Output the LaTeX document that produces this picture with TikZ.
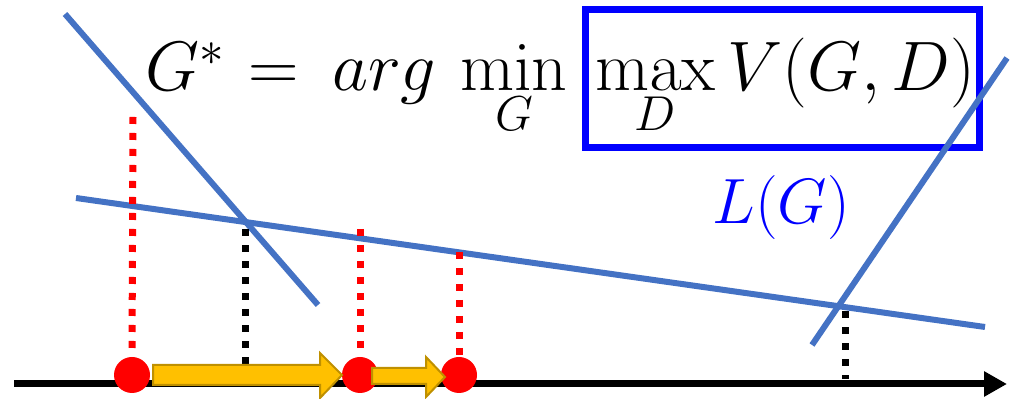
\RequirePackage{fix-cm}
\documentclass[tikz,border=0pt]{standalone}
\usepackage{tikz}
\usetikzlibrary{positioning, arrows.meta, calc}
\definecolor{lossblue}{HTML}{4472C4}
\definecolor{boxblue}{HTML}{0000FF}
\definecolor{ptred}{HTML}{FF0000}
\definecolor{stepgold}{HTML}{FFC000}
\definecolor{stepedge}{HTML}{BF9000}

\begin{document}
\begin{tikzpicture}[x=0.5pt, y=-0.5pt,
    lossline/.style={draw=lossblue, line width=3pt},
    drop/.style={line width=3.5pt, dash pattern=on 3.5pt off 4.5pt},
    pt/.style={circle, fill=ptred, minimum size=18pt, inner sep=0pt},
    stepbox/.style={fill=stepgold, draw=stepedge, line width=1pt, line join=miter},
    eq/.style={inner sep=0pt, anchor=base west, font=\fontsize{35}{42}\selectfont}]
  \useasboundingbox (0,0) rectangle (1017,399);
  % objective
  \node[eq] (lhs) at (145,91) {$G^*\hspace{2pt}=\hspace{7pt}arg$};
  \node[eq] (minop) at (460,91) {$\displaystyle\min_{\rule{0pt}{18pt}G}$};
  \node[eq] (maxop) at (595,91) {$\displaystyle\max_{\rule{0pt}{18pt}D} V(G,D)$};
  \node[draw=boxblue, line width=3.5pt, minimum width=197pt, minimum height=69pt, inner sep=0pt] (box) at (782,78.5) {};
  \node[inner sep=0pt, anchor=base west, text=boxblue, font=\fontsize{32}{38}\selectfont] (lg) at (712,224) {$L(G)$};
  % lines of L(G)
  \coordinate (a1) at (65,14);   \coordinate (a2) at (318,305);
  \coordinate (b1) at (76,198);  \coordinate (b2) at (985,327);
  \coordinate (c1) at (812,345); \coordinate (c2) at (1007,58);
  \coordinate (ab) at (intersection of a1--a2 and b1--b2);
  \coordinate (bc) at (intersection of b1--b2 and c1--c2);
  % axis
  \coordinate (o) at (14,384);
  \coordinate (xend) at (1007,384);
  \draw[line width=3.5pt, -{Triangle[length=11.5pt, width=12pt]}] (o) -- (xend);
  \draw[lossline] (a1) -- (a2);
  \draw[lossline] (b1) -- (b2);
  \draw[lossline] (c1) -- (c2);
  \draw[drop, black] ($(ab)+(0,7)$) -- ($(ab |- o)+(0,-20)$);
  \draw[drop, black] ($(bc)+(7,5)$) -- ($(bc |- o)+(7,-5)$);
  % steps
  \node[pt] (p0) at (132,375) {};
  \node[pt] (p1) at (360,375) {};
  \node[pt] (p2) at (459,375) {};
  \draw[drop, ptred] (133,117) -- (p0.north);
  \draw[drop, ptred] (360,229) -- (p1.north);
  \draw[drop, ptred] (459,252) -- (p2.north);
  \draw[stepbox] (153,365) -- (320,365) -- (320,353) -- (342,375) -- (320,398) -- (320,385) -- (153,385) -- cycle;
  \draw[stepbox] (372,368) -- (426,368) -- (426,357) -- (445,377) -- (426,397) -- (426,384) -- (372,384) -- cycle;
\end{tikzpicture}
\end{document}
